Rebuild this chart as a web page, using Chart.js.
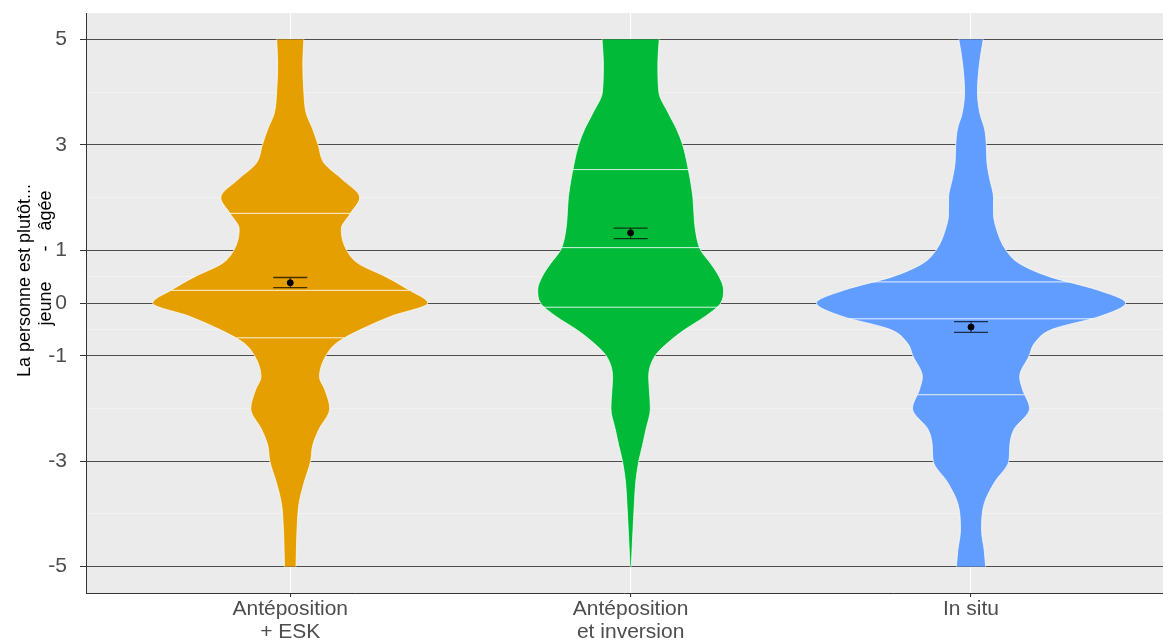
<!DOCTYPE html>
<html>
<head>
<meta charset="utf-8">
<script src="https://cdn.jsdelivr.net/npm/chart.js@4.4.1/dist/chart.umd.min.js"></script>
<style>
  html, body { margin: 0; padding: 0; background: #ffffff; }
</style>
</head>
<body>
<canvas id="violons" width="1163" height="641"></canvas>
<script>
// Groupes (axe x)
const categories = [["Antéposition", "+ ESK"], ["Antéposition", "et inversion"], ["In situ"]];
const couleurs = ['#E69F00', '#00BA38', '#619CFF'];

// Niveaux de l'échelle (-5 à 5) où la largeur des violons a été lue
const niveaux = [5, 4.55, 4, 3.6, 3.3, 3, 2.65, 2.35, 2, 1.7, 1.4, 1, 0.75, 0.5, 0.25, 0,
  -0.25, -0.5, -0.75, -1, -1.4, -1.65, -2, -2.4, -2.7, -3, -3.4, -3.8, -4.3, -4.7, -5];

// Demi-largeur de chaque violon à ces niveaux (unités de l'axe x)
const largeurAntepEsk = [0.040, 0.037, 0.040, 0.047, 0.066, 0.082, 0.100, 0.152, 0.204, 0.177, 0.150, 0.166, 0.200, 0.280, 0.348, 0.404,
  0.297, 0.208, 0.138, 0.105, 0.086, 0.102, 0.116, 0.084, 0.066, 0.060, 0.041, 0.026, 0.020, 0.018, 0.017];
const largeurAntepInv = [0.084, 0.080, 0.083, 0.111, 0.135, 0.153, 0.166, 0.175, 0.183, 0.186, 0.190, 0.206, 0.235, 0.260, 0.273, 0.265,
  0.220, 0.160, 0.110, 0.072, 0.053, 0.055, 0.058, 0.045, 0.035, 0.024, 0.015, 0.011, 0.007, 0.004, 0.002];
const largeurInSitu = [0.036, 0.025, 0.019, 0.026, 0.040, 0.045, 0.047, 0.055, 0.066, 0.066, 0.075, 0.103, 0.142, 0.230, 0.370, 0.454,
  0.380, 0.238, 0.188, 0.171, 0.143, 0.152, 0.172, 0.126, 0.114, 0.111, 0.069, 0.039, 0.031, 0.039, 0.043];

// Quartiles (25 %, 50 %, 75 %) et demi-largeur du violon à ces niveaux
const quartilesAntepEsk = [-0.66, 0.24, 1.70];
const quartilesAntepInv = [-0.08, 1.05, 2.53];
const quartilesInSitu = [-1.74, -0.30, 0.40];
const largQuartAntepEsk = [0.158, 0.349, 0.177];
const largQuartAntepInv = [0.260, 0.204, 0.170];
const largQuartInSitu = [0.157, 0.360, 0.287];

// Moyennes et barres d'erreur
const moyennes = [0.384, 1.33, -0.456];
const erreurBas = [0.290, 1.22, -0.556];
const erreurHaut = [0.484, 1.42, -0.355];

// Graduations de l'axe y
const yTicks = [5, 3, 1, 0, -1, -3, -5];
const yMineurs = [4, 2, 0.5, -0.5, -2, -4];

const largeurs = [largeurAntepEsk, largeurAntepInv, largeurInSitu];
const quartiles = [quartilesAntepEsk, quartilesAntepInv, quartilesInSitu];
const largQuart = [largQuartAntepEsk, largQuartAntepInv, largQuartInSitu];

const police = "'Liberation Sans', Arial, sans-serif";

var datasets = [];

for (let g = 0; g < 3; g++) {
  var centre = g + 1;
  var larg = largeurs[g];

  // bord droit du violon
  datasets.push({
    label: 'droite ' + g,
    data: niveaux.map((y, i) => ({ x: centre + larg[i], y: y })),
    borderColor: '#ffffff',
    borderWidth: 0.7,
    backgroundColor: couleurs[g],
    pointRadius: 0,
    cubicInterpolationMode: 'monotone',
    fill: false,
    order: 4
  });
  // bord gauche, rempli jusqu'au bord droit
  datasets.push({
    label: 'gauche ' + g,
    data: niveaux.map((y, i) => ({ x: centre - larg[i], y: y })),
    borderColor: '#ffffff',
    borderWidth: 0.7,
    backgroundColor: couleurs[g],
    pointRadius: 0,
    cubicInterpolationMode: 'monotone',
    fill: '-1',
    order: 4
  });

  // lignes des quartiles
  for (let q = 0; q < 3; q++) {
    datasets.push({
      label: 'quartile ' + g + '-' + q,
      data: [
        { x: centre - largQuart[g][q], y: quartiles[g][q] },
        { x: centre + largQuart[g][q], y: quartiles[g][q] }
      ],
      borderColor: 'rgba(255,255,255,0.85)',
      borderWidth: 1,
      pointRadius: 0,
      tension: 0,
      fill: false,
      order: 3
    });
  }

  // barre d'erreur : tige et deux chapeaux
  datasets.push({
    label: 'tige ' + g,
    data: [{ x: centre, y: erreurBas[g] }, { x: centre, y: erreurHaut[g] }],
    borderColor: 'rgba(0,0,0,0.7)',
    borderWidth: 1,
    pointRadius: 0,
    tension: 0,
    fill: false,
    order: 2
  });
  [erreurBas[g], erreurHaut[g]].forEach(function (v) {
    datasets.push({
      label: 'chapeau ' + g,
      data: [{ x: centre - 0.05, y: v }, { x: centre + 0.05, y: v }],
      borderColor: 'rgba(0,0,0,0.7)',
      borderWidth: 1.3,
      pointRadius: 0,
      tension: 0,
      fill: false,
      order: 2
    });
  });
}

// points des moyennes
datasets.push({
  label: 'moyenne',
  data: moyennes.map((m, g) => ({ x: g + 1, y: m })),
  showLine: false,
  pointRadius: 3,
  pointBackgroundColor: '#000000',
  pointBorderColor: '#000000',
  order: 1
});

// fond gris du panneau
const fondPanneau = {
  id: 'fondPanneau',
  beforeDraw(chart) {
    const { ctx, chartArea: a } = chart;
    ctx.save();
    ctx.fillStyle = '#EBEBEB';
    ctx.fillRect(a.left, a.top, a.right - a.left, a.bottom - a.top);
    ctx.restore();
  }
};

function estMajeur(v) {
  return yTicks.indexOf(v) !== -1;
}

var ctx = document.getElementById('violons').getContext('2d');
var graphique = new Chart(ctx, {
  type: 'line',
  data: { datasets: datasets },
  plugins: [fondPanneau],
  options: {
    indexAxis: 'y',
    responsive: false,
    animation: false,
    layout: { autoPadding: false, padding: { top: 13, right: 0, left: 0, bottom: 0 } },
    plugins: {
      legend: { display: false },
      tooltip: { enabled: false }
    },
    scales: {
      x: {
        type: 'linear',
        position: 'bottom',
        min: 0.4,
        max: 3.564,  // le panneau est coupé à droite
        afterBuildTicks: function (s) { s.ticks = [1, 2, 3].map(v => ({ value: v })); },
        afterFit: function (s) {
          s.height = 48;
          s.paddingLeft = 0;
          s.paddingRight = 0;
        },
        ticks: {
          autoSkip: false,
          maxRotation: 0,
          color: '#4D4D4D',
          padding: 0,
          font: { family: police, size: 21, lineHeight: 1.12 },
          callback: function (v) { return categories[v - 1] || ''; }
        },
        grid: {
          color: '#ffffff',
          lineWidth: 1.1,
          tickColor: '#333333',
          tickLength: 4
        },
        border: { display: true, color: '#333333', width: 1 }
      },
      y: {
        type: 'linear',
        min: -5.5,
        max: 5.5,
        afterBuildTicks: function (s) {
          s.ticks = yTicks.concat(yMineurs).sort((a, b) => b - a).map(v => ({ value: v }));
        },
        afterFit: function (s) {
          s.width = 86;
          s.paddingTop = 0;
          s.paddingBottom = 0;
        },
        ticks: {
          autoSkip: false,
          color: '#4D4D4D',
          padding: 13,
          font: { family: police, size: 21 },
          callback: function (v) { return estMajeur(v) ? String(v) : ''; }
        },
        grid: {
          color: c => estMajeur(c.tick.value) ? '#4D4D4D' : '#F7F7F7',
          lineWidth: c => estMajeur(c.tick.value) ? 1 : 0.6,
          tickColor: c => estMajeur(c.tick.value) ? '#333333' : 'rgba(0,0,0,0)',
          tickLength: 6
        },
        border: { display: true, color: '#333333', width: 1 },
        title: {
          display: true,
          text: ['         La personne est plutôt...', '                  jeune      -   âgée'],
          color: '#000000',
          font: { family: police, size: 18 },
          padding: { top: 14, bottom: 0 }
        }
      }
    }
  }
});
</script>
</body>
</html>
